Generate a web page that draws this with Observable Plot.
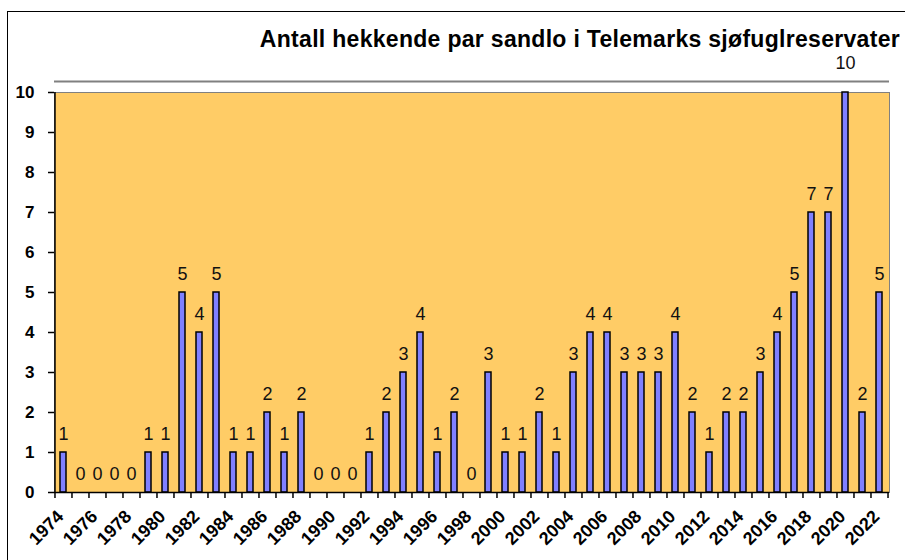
<!DOCTYPE html>
<html>
<head>
<meta charset="utf-8">
<script src="https://cdn.jsdelivr.net/npm/d3@7"></script>
<script src="https://cdn.jsdelivr.net/npm/@observablehq/plot@0.6"></script>
<style>
  html, body { margin: 0; padding: 0; background: #fff; }
  #wrap { position: relative; width: 905px; height: 560px; overflow: hidden; font-family: "Liberation Sans", Arial, sans-serif; }
  #border { position: absolute; left: 7px; top: 11px; width: 1000px; height: 1000px; border-left: 1px solid #000; border-top: 1px solid #000; }
  #title { position: absolute; right: 5px; top: 28px; font-size: 23px; line-height: 23px; font-weight: bold; color: #000; white-space: nowrap; letter-spacing: 0.3px; }
  #chart { position: absolute; left: 0; top: 0; }
</style>
</head>
<body>
<div id="wrap">
  <div id="border"></div>
  <div id="chart"></div>
  <div id="title">Antall hekkende par sandlo i Telemarks sjøfuglreservater</div>
</div>
<script>
const years = [1974,1975,1976,1977,1978,1979,1980,1981,1982,1983,1984,1985,1986,1987,1988,1989,1990,1991,1992,1993,1994,1995,1996,1997,1998,1999,2000,2001,2002,2003,2004,2005,2006,2007,2008,2009,2010,2011,2012,2013,2014,2015,2016,2017,2018,2019,2020,2021,2022];
const pairs = [1,0,0,0,0,1,1,5,4,5,1,1,2,1,2,0,0,0,1,2,3,4,1,2,0,3,1,1,2,1,3,4,4,3,3,3,4,2,1,2,2,3,4,5,7,7,10,2,5];
const yTicks = [0,1,2,3,4,5,6,7,8,9,10];
const xLabelYears = years.filter(y => y % 2 === 0);

const data = years.map((year, i) => ({year, value: pairs[i]}));
const maxValue = d3.max(pairs);

const W = 905, H = 560, ML = 54, MR = 16, MT = 92, MB = 68;
const step = (W - ML - MR) / years.length;

const chart = Plot.plot({
  width: W,
  height: H,
  marginLeft: ML,
  marginRight: MR,
  marginTop: MT,
  marginBottom: MB,
  style: {background: "transparent", fontFamily: "Liberation Sans, Arial, sans-serif", color: "#000"},
  x: {type: "band", domain: years, paddingInner: 0.62, paddingOuter: 0.31, label: null},
  y: {domain: [0, 10], label: null},
  marks: [
    Plot.frame({fill: "#FFCC66", stroke: "#808080", strokeWidth: 1}),
    Plot.ruleY([10], {stroke: "#808080", strokeWidth: 2, dy: -11}),
    Plot.barY(data.filter(d => d.value > 0), {x: "year", y: "value", fill: "#8080FF", stroke: "#000", strokeWidth: 1.5}),
    Plot.ruleY([0], {stroke: "#000", strokeWidth: 1.5}),
    Plot.ruleX([years[0]], {dx: -step / 2, stroke: "#000", strokeWidth: 1.5}),
    Plot.text(data.filter(d => d.value < maxValue), {x: "year", y: "value", text: d => String(d.value), dy: -18, fontSize: 18, fill: "#111"}),
    Plot.text(data.filter(d => d.value === maxValue), {x: "year", y: "value", text: d => String(d.value), dy: -29, fontSize: 18, fill: "#111"}),
    Plot.axisY({ticks: yTicks, tickSize: 6, tickPadding: 14, fontSize: 17, fontWeight: "bold", stroke: "#000", strokeWidth: 1.5, label: null}),
    Plot.axisX({ticks: years, tickSize: 6, tickFormat: () => "", dx: -step / 2, stroke: "#000", strokeWidth: 1.5, label: null}),
    Plot.axisX({ticks: [years[years.length - 1]], tickSize: 6, tickFormat: () => "", dx: step / 2, stroke: "#000", strokeWidth: 1.5, label: null}),
    Plot.axisX({ticks: xLabelYears, tickSize: 0, tickRotate: -45, tickPadding: 21, dx: -3, fontSize: 18, fontWeight: "bold", tickFormat: d => String(d), label: null})
  ]
});
document.getElementById("chart").appendChild(chart);
</script>
</body>
</html>
